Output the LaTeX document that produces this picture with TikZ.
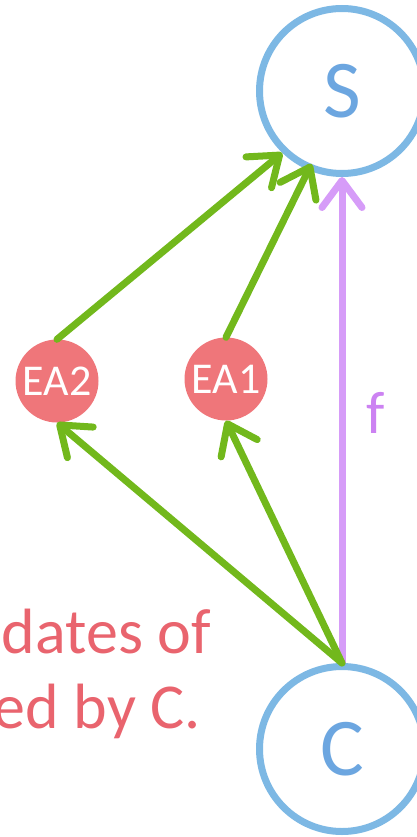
\documentclass[tikz,border=0pt]{standalone}
\usepackage{fontspec}
\setmainfont{Carlito}
\usetikzlibrary{arrows.meta}
\definecolor{cblue}{HTML}{7DB8E4}
\definecolor{cbluetext}{HTML}{6CA6E0}
\definecolor{cred}{HTML}{EF767A}
\definecolor{credtext}{HTML}{E9646E}
\definecolor{cgreen}{HTML}{72B81C}
\definecolor{cpurple}{HTML}{D69CF8}
\definecolor{cpurpletext}{HTML}{CC82F2}
\tikzset{
  bignode/.style={circle, draw=cblue, line width=7pt, fill=white, minimum size=165pt, inner sep=0pt,
    text=cbluetext, font=\fontsize{82}{98}\selectfont},
  eanode/.style={circle, fill=cred, minimum size=83pt, inner sep=0pt, text=white,
    font=\fontsize{44}{53}\selectfont},
  greenarrow/.style={draw=cgreen, line width=7pt, line cap=round,
    -{Straight Barb[length=27pt,width=40pt,round]}},
  purplearrow/.style={draw=cpurple, line width=7pt,
    -{Straight Barb[length=27pt,width=40pt,round]}},
  redtext/.style={text=credtext, inner sep=0pt, font=\fontsize{64}{77}\selectfont},
}
\begin{document}
\begin{tikzpicture}[x=1pt,y=-1pt]
\useasboundingbox (0,0) rectangle (417,837);
\node[bignode] (S) at (342,91) {S};
\node[bignode] (C) at (342,749) {C};
\node[eanode] (EA2) at (57,381) {EA2};
\node[eanode] (EA1) at (226,379) {EA1};
\node[redtext, anchor=base east] (t1) at (211,653) {dates of};
\node[redtext, anchor=base east] (t2) at (201,728) {ed by C.};
\node[text=cpurpletext, inner sep=0pt, anchor=base west, font=\fontsize{60}{72}\selectfont] (f) at (366,433) {f};
\draw[purplearrow] (C.north) -- (S.south);
\draw[greenarrow] (EA2.north) -- (S.226);
\draw[greenarrow, shorten >=-7pt] (EA1.north) -- (S.247);
\draw[greenarrow] (C.north) -- (EA2.south);
\draw[greenarrow] (C.north) -- (EA1.south);
\end{tikzpicture}
\end{document}
